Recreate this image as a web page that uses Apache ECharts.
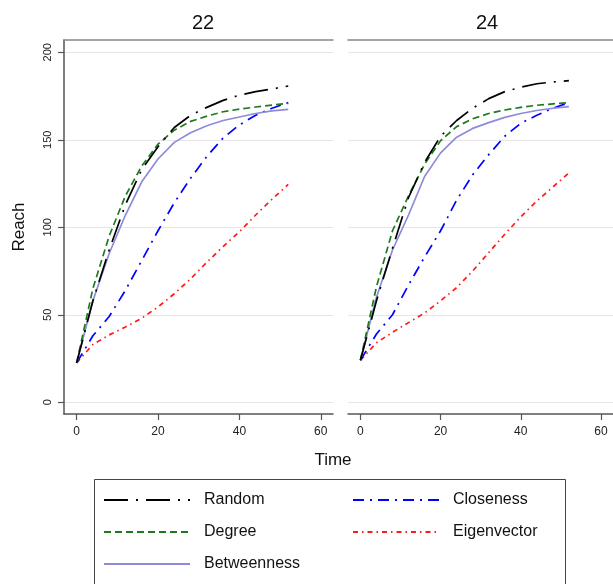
<!DOCTYPE html>
<html>
<head>
<meta charset="utf-8">
<script src="https://cdn.jsdelivr.net/npm/echarts@6/dist/echarts.min.js"></script>
<style>
html,body{margin:0;padding:0;background:#fff;}
#chart{width:613px;height:584px;}
</style>
</head>
<body>
<div id="chart"></div>
<script>
// ---- data ----
const panels = ["22", "24"];
const times = [0, 4, 8, 12, 16, 20, 24, 28, 32, 36, 40, 44, 48, 52];
const xTicks = [0, 20, 40, 60];
const yTicks = [0, 50, 100, 150, 200];
const seriesNames = ["Random", "Degree", "Betweenness", "Closeness", "Eigenvector"];

// panel "22"
const random22      = [22.5, 58, 87, 113, 133, 146, 157, 164, 168.5, 172.5, 175.5, 177.5, 179, 180.7];
const degree22      = [22.5, 65, 95, 118, 135, 147.5, 155.5, 160.5, 163.5, 166, 167.5, 168.7, 169.8, 170.8];
const betweenness22 = [22.5, 58, 85, 107, 126, 139, 148.5, 154, 158, 161, 163, 165, 166.5, 167.4];
const closeness22   = [22.5, 38, 49, 64, 81, 98, 114, 128, 140.5, 151, 158.5, 164, 168, 171.2];
const eigenvector22 = [22.5, 33, 38.5, 43, 48, 54.5, 62, 70.5, 80, 89, 97.5, 107, 116, 124.5];

// panel "24"
const random24      = [24, 58, 88, 117, 137, 152, 161, 168, 173.5, 177.5, 180, 182, 183, 183.8];
const degree24      = [24, 66, 98, 118, 136, 149.5, 157.5, 162, 165, 167, 168.5, 169.7, 170.5, 171.2];
const betweenness24 = [24, 60, 87, 107, 129, 142.5, 151.5, 156.5, 159.8, 162.8, 165, 166.7, 168, 168.9];
const closeness24   = [24, 39, 50, 67, 83, 98, 115.5, 130, 141.5, 152, 159.4, 164, 168, 171.2];
const eigenvector24 = [24, 34, 40, 45.5, 51, 58, 65.5, 75, 85.5, 96, 106, 115, 123, 131];

const panelData = [
  [random22, degree22, betweenness22, closeness22, eigenvector22],
  [random24, degree24, betweenness24, closeness24, eigenvector24]
];

// ---- styles ----
const FONT = "Liberation Sans";
const lineStyles = {
  Random:      {color: "#000000", width: 1.7, type: [24, 8, 2, 8]},
  Degree:      {color: "#1f7a1f", width: 1.7, type: [7, 4]},
  Betweenness: {color: "#8c8cd9", width: 1.7, type: "solid"},
  Closeness:   {color: "#0000ff", width: 1.7, type: [11, 6, 2, 6]},
  Eigenvector: {color: "#ff1a1a", width: 1.7, type: [5, 4, 1.5, 4]}
};

const chart = echarts.init(document.getElementById("chart"), null, {renderer: "canvas"});

const grids = [
  {left: 64, top: 40, width: 269, height: 374},
  {left: 348, top: 40, width: 269, height: 374}
];

const xAxes = [];
const yAxes = [];
panels.forEach((p, i) => {
  xAxes.push({
    type: "value", gridIndex: i, min: -3.1, max: 63, position: "bottom",
    axisLine: {show: true, onZero: false, lineStyle: {color: "#555", width: 1.5}},
    axisTick: {show: true, length: 6, customValues: xTicks, lineStyle: {color: "#555", width: 1.2}},
    axisLabel: {customValues: xTicks, fontFamily: FONT, fontSize: 12, color: "#222", margin: 12},
    splitLine: {show: false}
  });
  xAxes.push({
    type: "value", gridIndex: i, min: -3.1, max: 63, position: "top",
    axisLine: {show: true, onZero: false, lineStyle: {color: "#888", width: 1.5}},
    axisTick: {show: false}, axisLabel: {show: false}, splitLine: {show: false}
  });
  yAxes.push({
    type: "value", gridIndex: i, min: -6.7, max: 207,
    axisLine: {show: i === 0, onZero: false, lineStyle: {color: "#555", width: 1.5}},
    axisTick: {show: i === 0, length: 6, customValues: yTicks, lineStyle: {color: "#555", width: 1.2}},
    axisLabel: {show: i === 0, customValues: yTicks, rotate: 90, fontFamily: FONT, fontSize: 11, color: "#222", margin: 11},
    splitLine: {show: true, lineStyle: {color: "#e6e6e6", width: 1.2}},
    name: i === 0 ? "Reach" : "",
    nameLocation: "middle", nameGap: 36, nameRotate: 90,
    nameTextStyle: {fontFamily: FONT, fontSize: 17, color: "#111"}
  });
});

const series = [];
panels.forEach((p, i) => {
  seriesNames.forEach((name, k) => {
    series.push({
      name: name, type: "line",
      xAxisIndex: i * 2, yAxisIndex: i,
      data: times.map((t, j) => [t, panelData[i][k][j]]),
      symbol: "none", smooth: false,
      lineStyle: lineStyles[name],
      itemStyle: {color: lineStyles[name].color},
      z: 10 - k
    });
  });
});

const legendCommon = {
  orient: "vertical", itemWidth: 86, itemHeight: 20, itemGap: 16,
  textStyle: {fontFamily: FONT, fontSize: 16, color: "#111", padding: [0, 0, 0, 9]},
  itemStyle: {opacity: 0},
  selectedMode: false
};

const option = {
  backgroundColor: "#ffffff",
  animation: false,
  title: [
    {text: panels[0], left: 198, top: 8, textAlign: "center", textStyle: {fontFamily: FONT, fontSize: 20, fontWeight: "normal", color: "#111"}},
    {text: panels[1], left: 482, top: 8, textAlign: "center", textStyle: {fontFamily: FONT, fontSize: 20, fontWeight: "normal", color: "#111"}},
    {text: "Time", left: 328, top: 447, textAlign: "center", textStyle: {fontFamily: FONT, fontSize: 17, fontWeight: "normal", color: "#111"}}
  ],
  grid: grids,
  xAxis: xAxes,
  yAxis: yAxes,
  legend: [
    Object.assign({}, legendCommon, {left: 98, top: 487, data: ["Random", "Degree", "Betweenness"]}),
    Object.assign({}, legendCommon, {left: 347, top: 487, data: ["Closeness", "Eigenvector"]})
  ],
  graphic: [
    {type: "rect", left: 92, top: 477, shape: {width: 471, height: 110},
     style: {fill: "none", stroke: "#444", lineWidth: 1}, z: -1}
  ],
  series: series
};
chart.setOption(option);
</script>
</body>
</html>
